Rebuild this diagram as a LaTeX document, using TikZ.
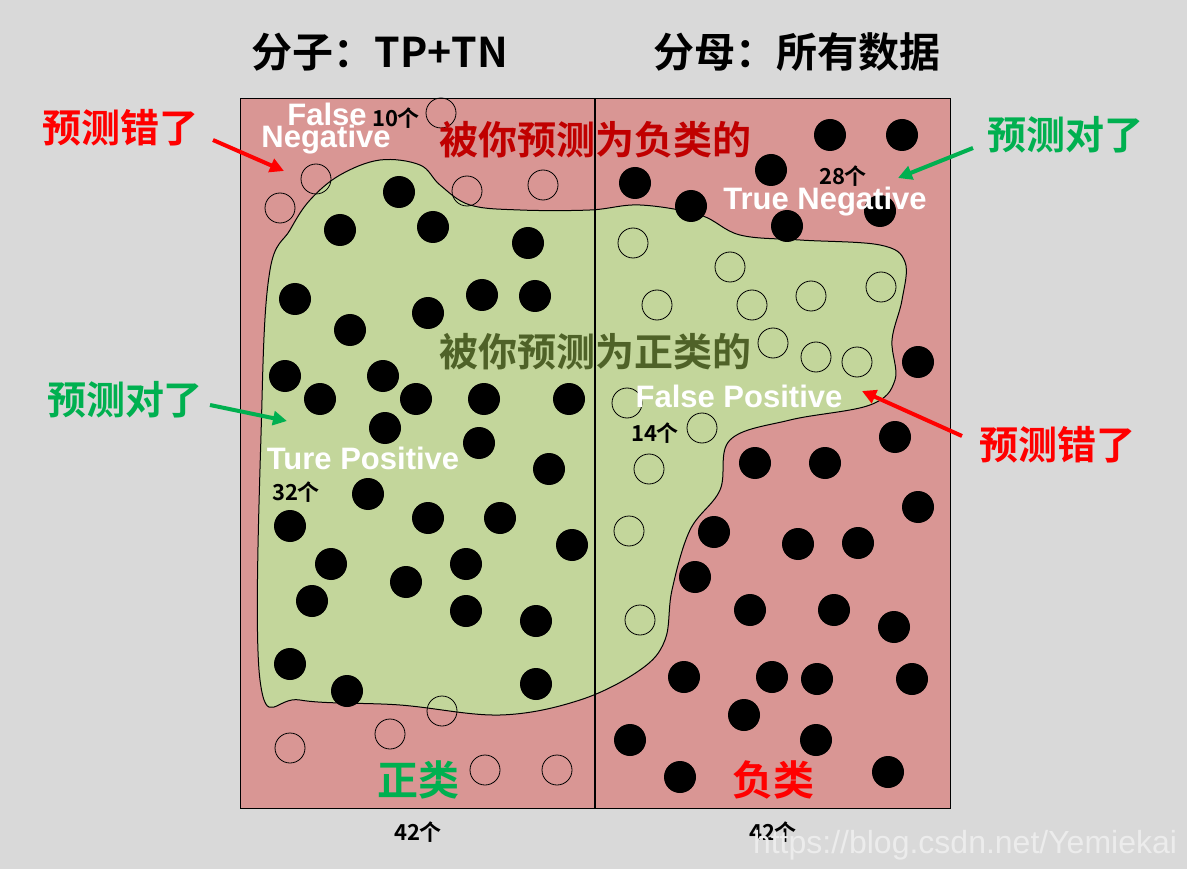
\documentclass[tikz,border=0pt]{standalone}
\usepackage{fontspec}
\setmainfont{Liberation Sans}
\newfontfamily\cjk{Noto Sans CJK SC}[BoldFont={* Bold}]
\usetikzlibrary{arrows.meta,shadows}
\definecolor{bgg}{HTML}{D9D9D9}
\definecolor{pinkf}{HTML}{D99694}
\definecolor{greenf}{HTML}{C3D69B}
\definecolor{gtxt}{HTML}{00B050}
\definecolor{rtxt}{HTML}{FF0000}
\definecolor{drtxt}{HTML}{C00000}
\definecolor{olive}{HTML}{4F6228}
\begin{document}
\begin{tikzpicture}[x=1pt,y=-1pt,
  big/.style={font=\cjk\bfseries\fontsize{41}{41}\selectfont},
  mid/.style={font=\cjk\bfseries\fontsize{39}{39}\selectfont},
  wlab/.style={font=\bfseries\fontsize{31}{31}\selectfont,text=white,inner sep=0},
  cnt/.style={font=\cjk\bfseries\fontsize{22}{22}\selectfont},
  arr/.style={line width=4pt,-{Triangle[length=14pt,width=14pt]}}]
\fill[bgg] (0,0) rectangle (1187,869);
\useasboundingbox (0,0) rectangle (1187,869);
\draw[fill=pinkf,line width=1pt] (240,99) rectangle (950,808);
\draw[fill=greenf,line width=1pt] plot[smooth cycle,tension=0.6] coordinates{
(270,270)(262,400)(260,680)(300,700)(400,705)(500,715)(580,700)(640,670)(665,640)(672,590)(690,530)(720,490)(730,440)(790,420)(870,405)(895,380)(892,340)(902,300)(905,262)(880,245)(800,240)(740,235)(700,215)(640,205)(590,210)(520,210)(470,205)(440,185)(420,165)(380,160)(340,175)(310,200)(290,230)};
\draw[line width=2.5pt] (595,99) -- (595,808);
\foreach \x/\y in {399/192,340/230,433/227,528/243,295/299,482/295,535/296,428/313,350/330,285/376,383/376,320/399,416/399,484/399,569/399,385/428,479/443,549/469,368/494,290/526,428/518,500/518,572/545,331/564,466/564,406/582,312/601,466/611,536/621,290/664,347/691,536/684,
635/183,691/206,771/170,830/135,902/135,787/226,880/211,918/362,895/437,755/463,825/463,918/507,714/532,798/544,858/543,695/577,750/610,834/610,894/627,684/677,772/677,817/679,912/679,744/715,630/740,816/740,680/777,888/772}
  \fill (\x,\y) circle (16);
\foreach \x/\y in {441/113,316/179,280/208,467/191,543/185,442/711,390/734,290/748,485/770,557/770,
633/243,730/267,657/305,752/305,811/296,881/287,773/343,816/357,857/362,627/403,702/428,649/469,629/531,640/620}
  \draw[line width=0.8pt] (\x,\y) circle (15);
\node[big] (t1) at (380,52) {分子：TP+TN};
\node[big] (t2) at (797,52) {分母：所有数据};
\node[mid,text=rtxt] (e1) at (120,128) {预测错了};
\node[mid,text=gtxt] (c1) at (1065,135) {预测对了};
\node[mid,text=gtxt] (c2) at (125,400) {预测对了};
\node[mid,text=rtxt] (e2) at (1057,445) {预测错了};
\node[wlab] (fa) at (327,114) {False};
\node[wlab] (ng) at (326,140) {Negative};
\node[cnt] (n10) at (396,118) {10个};
\node[mid,text=drtxt] (neg) at (595,140) {被你预测为负类的};
\node[cnt] (n28) at (843,176) {28个};
\node[wlab] (tn) at (825,202) {True Negative};
\node[mid,text=olive] (pos) at (595,352) {被你预测为正类的};
\node[wlab] (fp) at (739,396) {False Positive};
\node[cnt] (n14) at (655,433) {14个};
\node[wlab] (tp) at (363,458) {Ture Positive};
\node[cnt] (n32) at (296,492) {32个};
\node[big,text=gtxt] (zl) at (418,780) {正类};
\node[big,text=rtxt] (fl) at (773,780) {负类};
\node[cnt] (n42a) at (418,832) {42个};
\node[cnt] (n42b) at (773,832) {42个};
\node[font=\fontsize{32}{32}\selectfont,text=white!85!gray] (wm) at (965,845) {https://blog.csdn.net/Yemiekai};
\coordinate (a1s) at (213,140); \coordinate (a1e) at (284,171);
\coordinate (a2s) at (973,148); \coordinate (a2e) at (898,178);
\coordinate (a3s) at (210,405); \coordinate (a3e) at (287,421);
\coordinate (a4s) at (962,436); \coordinate (a4e) at (862,391);
\draw[arr,rtxt] (a1s) -- (a1e);
\draw[arr,gtxt] (a2s) -- (a2e);
\draw[arr,gtxt] (a3s) -- (a3e);
\draw[arr,rtxt] (a4s) -- (a4e);
\end{tikzpicture}
\end{document}
